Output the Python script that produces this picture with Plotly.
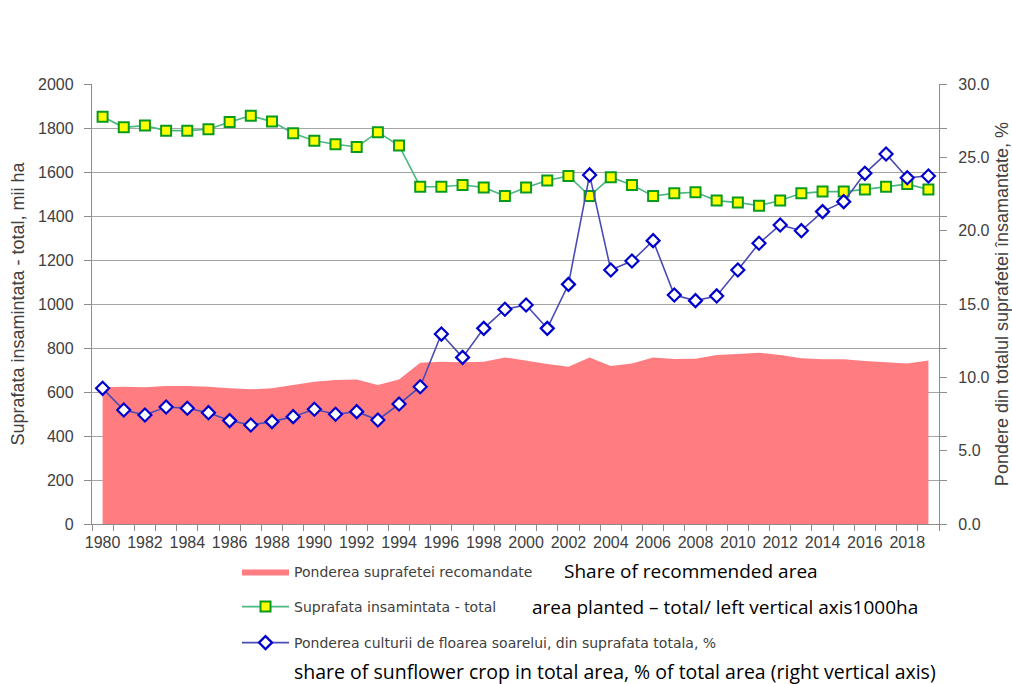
import plotly.graph_objects as go

years = list(range(1980, 2020))
planted_total = [1851, 1803, 1811, 1788, 1788, 1794, 1827, 1856, 1829, 1776,
                 1742, 1726, 1714, 1781, 1720, 1533, 1533, 1541, 1530, 1491,
                 1530, 1561, 1582, 1491, 1576, 1541, 1491, 1503, 1508, 1470,
                 1461, 1447, 1470, 1503, 1511, 1511, 1521, 1533, 1545, 1521]
sunflower_share = [9.25, 7.77, 7.43, 7.98, 7.89, 7.59, 7.05, 6.75, 6.98, 7.32,
                   7.82, 7.48, 7.66, 7.09, 8.18, 9.36, 12.95, 11.36, 13.34, 14.64,
                   14.93, 13.34, 16.34, 23.8, 17.32, 17.93, 19.32, 15.61, 15.23, 15.55,
                   17.32, 19.14, 20.39, 20.0, 21.3, 21.98, 23.91, 25.23, 23.61, 23.73]
recommended_share = [9.32, 9.36, 9.32, 9.41, 9.41, 9.36, 9.25, 9.18, 9.25, 9.48,
                     9.70, 9.82, 9.86, 9.48, 9.86, 11.0, 11.07, 11.02, 11.07, 11.36,
                     11.11, 10.91, 10.73, 11.36, 10.77, 10.95, 11.36, 11.25, 11.27, 11.52,
                     11.59, 11.68, 11.52, 11.3, 11.23, 11.23, 11.11, 11.02, 10.95, 11.14]
x_tick_labels = [str(y) for y in range(1980, 2019, 2)]

name_area = "Ponderea suprafetei recomandate"
name_green = "Suprafata insamintata - total"
name_blue = "Ponderea culturii de floarea soarelui, din suprafata totala, %"

FONT = "Liberation Sans, Arial, sans-serif"
LEG_FONT = "DejaVu Sans, sans-serif"
EN_FONT = "Open Sans, sans-serif"
GRID = "#A6A6A6"
AXIS = "#8C8C8C"
TXT = "#404040"

fig = go.Figure()
fig.add_trace(go.Scatter(
    x=years, y=recommended_share, name=name_area, yaxis="y2",
    mode="lines", fill="tozeroy", fillcolor="#FF7C80",
    line=dict(width=0, color="#FF7C80"), legend="legend", hoverinfo="skip"))
fig.add_trace(go.Scatter(
    x=years, y=planted_total, name=name_green, yaxis="y",
    mode="lines+markers", line=dict(color="#4CB782", width=1.6),
    marker=dict(symbol="square", size=10, color="#FFFF00",
                line=dict(color="#0A9A1E", width=2)),
    legend="legend2"))
fig.add_trace(go.Scatter(
    x=years, y=sunflower_share, name=name_blue, yaxis="y2",
    mode="lines+markers", line=dict(color="#4B4BB4", width=1.6),
    marker=dict(symbol="diamond", size=10, color="white",
                line=dict(color="#0000CC", width=2.2)),
    legend="legend3"))

W, H = 1012, 684
L, R, T, B = 92, 73, 84, 160
pw, ph = W - L - R, H - T - B

def px_x(p):
    return (p - L) / pw

def px_y(p):
    return (H - B - p) / ph

leg_common = dict(font=dict(family=LEG_FONT, size=14, color=TXT),
                  bgcolor="rgba(0,0,0,0)", xanchor="left", yanchor="middle",
                  itemwidth=47, orientation="v")

fig.update_layout(
    width=W, height=H,
    margin=dict(l=L, r=R, t=T, b=B, autoexpand=False),
    paper_bgcolor="white", plot_bgcolor="white",
    font=dict(family=FONT, size=16, color=TXT),
    showlegend=True,
    legend=dict(x=px_x(237), y=px_y(572), **leg_common),
    legend2=dict(x=px_x(237), y=px_y(607), **leg_common),
    legend3=dict(x=px_x(237), y=px_y(643), **leg_common),
    xaxis=dict(
        range=[1979.5, 2019.5], tickmode="array",
        tickvals=list(range(1980, 2019, 2)), ticktext=x_tick_labels,
        ticks="", showgrid=False, zeroline=False, automargin=False,
        showline=True, linecolor=AXIS, linewidth=1.3,
        tickfont=dict(size=16, color=TXT), ticklabelstandoff=4,
        minor=dict(tick0=1979.5, dtick=1, ticks="outside", ticklen=6,
                   tickcolor=AXIS, tickwidth=1.3, showgrid=False),
    ),
    yaxis=dict(
        range=[0, 2000], dtick=200, showgrid=True, gridcolor=GRID, gridwidth=1.4,
        zeroline=False, showline=True, linecolor=AXIS, linewidth=1.3, automargin=False,
        ticks="outside", ticklen=7, tickcolor=AXIS, tickwidth=1.3,
        tickfont=dict(size=16, color=TXT), ticklabelstandoff=7,
        title=dict(text="Suprafata insamintata - total, mii ha",
                   font=dict(size=18, color=TXT), standoff=8),
    ),
    yaxis2=dict(
        range=[0, 30], dtick=5, tickformat=".1f", overlaying="y", side="right",
        showgrid=False, zeroline=False, showline=True, linecolor=AXIS, linewidth=1.3,
        automargin=False,
        ticks="outside", ticklen=7, tickcolor=AXIS, tickwidth=1.3,
        tickfont=dict(size=16, color=TXT), ticklabelstandoff=8,
        minor=dict(tick0=0, dtick=3, ticks="outside", ticklen=7,
                   tickcolor=AXIS, tickwidth=1.3, showgrid=False),
        title=dict(text="Pondere din totalul suprafetei însamantate, %",
                   font=dict(size=18, color=TXT), standoff=9),
    ),
    annotations=[
        dict(text="Share of recommended area", xref="paper", yref="paper",
             x=px_x(562), y=px_y(571), xanchor="left", yanchor="middle",
             showarrow=False, font=dict(family=EN_FONT, size=19, color="black")),
        dict(text="area planted – total/ left vertical axis1000ha", xref="paper", yref="paper",
             x=px_x(530), y=px_y(607), xanchor="left", yanchor="middle",
             showarrow=False, font=dict(family=EN_FONT, size=19, color="black")),
        dict(text="share of sunflower crop in total area, % of total area (right vertical axis)",
             xref="paper", yref="paper",
             x=px_x(292), y=px_y(671), xanchor="left", yanchor="middle",
             showarrow=False, font=dict(family=EN_FONT, size=19.5, color="black")),
    ],
)

fig.write_html("out.html", config={"displayModeBar": False},
               post_script="document.body.style.margin='0';document.body.style.padding='0';")
